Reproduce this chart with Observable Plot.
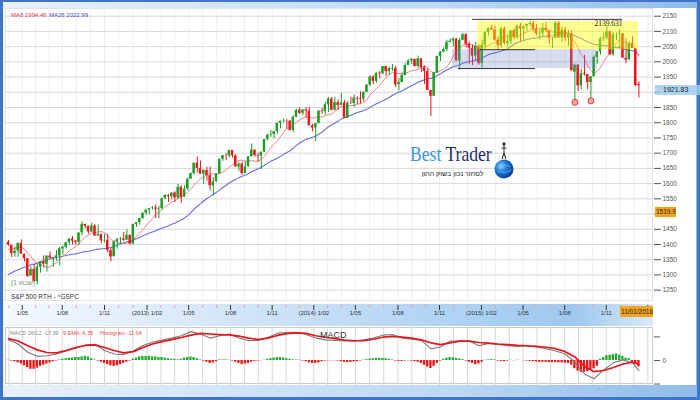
<!DOCTYPE html>
<html>
<head>
<meta charset="utf-8">
<script src="https://cdn.jsdelivr.net/npm/d3@7"></script>
<script src="https://cdn.jsdelivr.net/npm/@observablehq/plot@0.6"></script>
<style>
  body { margin: 0; }
  #wrap { position: relative; width: 700px; height: 400px; overflow: hidden; background: #3f74c9; font-family: "Liberation Sans", Arial, sans-serif; }
  .abs { position: absolute; }
  #inner { left: 3px; top: 2px; width: 694px; height: 395px; background: linear-gradient(to right, #e8f1fb, #bcd8f3 65%, #8fbbe9); }
  #mainbg { left: 4px; top: 8px; width: 692px; height: 319px; background: #fff; }
  #mainframe { left: 5px; top: 8px; width: 648px; height: 293px; border: 1px solid #e2e2e2; box-sizing: border-box; }
  #band { left: 4px; top: 304px; width: 649px; height: 22px; background: linear-gradient(to right, #f4f9fe 0%, #d3e6f8 35%, #aed2f2 70%, #9ec8ef 88%, #d9eaf9 100%); }
  #macdbg { left: 4px; top: 327px; width: 692px; height: 58px; background: #fff; }
  #macdframe { left: 5px; top: 327px; width: 648px; height: 57px; border: 1px solid #c9c9c9; box-sizing: border-box; }
  .lbl { position: absolute; white-space: nowrap; line-height: 1; }
  .box { position: absolute; white-space: nowrap; line-height: 10px; height: 10px; font-size: 6.5px; color: #222; box-sizing: border-box; }
</style>
</head>
<body>
<div id="wrap">
  <div id="inner" class="abs"></div>
  <div id="mainbg" class="abs"></div>
  <div id="mainframe" class="abs"></div>
  <div id="band" class="abs"></div>
  <div id="macdbg" class="abs"></div>
  <div id="macdframe" class="abs"></div>
</div>
<script>
// ---------- DATA (weekly S&P 500 candles, index 0 = week of 6 Apr 2012) ----------
const weekOpen = [
  1408,1397,1370,1379,1403,1368,1353,1296,1318,1278,
  1325,1343,1335,1362,1354,1356,1362,1385,1391,1406,
  1418,1411,1407,1438,1466,1460,1441,1461,1429,1433,
  1412,1414,1380,1360,1409,1416,1418,1414,1430,1402,
  1466,1472,1486,1503,1513,1518,1520,1516,1518,1551,
  1561,1557,1569,1553,1588,1555,1582,1614,1633,1667,
  1650,1631,1643,1626,1593,1606,1632,1680,1692,1691,
  1709,1691,1655,1664,1633,1655,1688,1710,1692,1690,
  1703,1745,1760,1762,1771,1798,1805,1806,1805,1775,
  1818,1841,1831,1842,1838,1790,1783,1797,1838,1836,
  1859,1878,1841,1866,1857,1865,1815,1864,1863,1881,
  1880,1878,1900,1924,1950,1936,1963,1961,1985,1968,
  1976,1978,1925,1932,1955,1988,2003,2008,1985,2010,
  1982,1968,1906,1887,1965,2018,2032,2040,2064,2068,
  2075,2003,2071,2089,2058,2045,2019,2051,1995,2055,
  2097,2110,2105,2071,2053,2108,2061,2067,2102,2081,
  2117,2108,2116,2123,2126,2107,2092,2094,2110,2102,
  2076,2077,2127,2079,2104,2078,2092,1966,1989,1921,
  1961,1958,1932,1951,2015,2033,2075,2079,2099,2023,
  2089,2090,2092,2012,2006,2061,2044,1926
];
const weekHigh = [
  1413,1397,1392,1406,1415,1368,1354,1328,1335,1335,
  1343,1363,1362,1375,1357,1380,1391,1395,1406,1418,
  1426,1413,1438,1474,1467,1460,1470,1465,1464,1434,
  1434,1433,1389,1409,1420,1423,1439,1448,1431,1467,
  1472,1486,1503,1514,1518,1525,1530,1525,1552,1564,
  1564,1570,1573,1597,1593,1592,1618,1635,1667,1687,
  1674,1646,1654,1655,1620,1632,1680,1693,1698,1709,
  1709,1695,1669,1670,1672,1689,1730,1710,1700,1704,
  1745,1760,1775,1771,1798,1805,1813,1810,1808,1823,
  1844,1849,1843,1850,1850,1795,1797,1840,1847,1867,
  1883,1883,1884,1875,1897,1872,1869,1884,1891,1885,
  1902,1901,1924,1955,1955,1963,1968,1985,1985,1983,
  1991,1985,1945,1964,1994,2006,2011,2008,2019,2010,
  1985,1977,1906,1965,2018,2034,2046,2071,2075,2079,
  2077,2077,2094,2093,2064,2056,2064,2058,2072,2097,
  2110,2119,2117,2082,2114,2114,2089,2102,2111,2120,
  2126,2117,2123,2134,2133,2122,2105,2126,2130,2102,
  2080,2132,2132,2114,2113,2103,2103,1993,1991,1975,
  2021,1958,1952,2020,2034,2080,2094,2116,2101,2097,
  2095,2105,2093,2076,2067,2082,2044,1935
];
const weekLow = [
  1394,1357,1358,1358,1368,1343,1292,1296,1277,1267,
  1306,1324,1309,1352,1325,1345,1329,1365,1385,1398,
  1398,1397,1396,1428,1452,1434,1440,1426,1426,1403,
  1405,1373,1343,1359,1385,1399,1410,1414,1398,1398,
  1456,1463,1482,1495,1498,1513,1485,1485,1514,1547,
  1538,1546,1539,1548,1536,1555,1577,1614,1628,1635,
  1630,1598,1608,1577,1560,1605,1632,1673,1676,1684,
  1684,1654,1640,1627,1633,1655,1688,1687,1670,1647,
  1703,1740,1752,1746,1761,1780,1799,1779,1772,1767,
  1818,1827,1823,1815,1790,1770,1738,1797,1828,1825,
  1834,1839,1839,1840,1857,1814,1815,1860,1851,1859,
  1862,1868,1900,1919,1925,1930,1944,1958,1952,1955,
  1968,1916,1905,1932,1955,1988,1991,1983,1978,1965,
  1926,1906,1821,1886,1961,2001,2030,2034,2062,2049,
  2003,1973,2069,2046,1992,1988,2004,1989,1980,2041,
  2085,2103,2068,2039,2045,2055,2045,2057,2073,2073,
  2067,2067,2099,2117,2099,2085,2072,2083,2097,2056,
  2044,2077,2077,2063,2067,2052,1970,1867,1903,1908,
  1953,1908,1872,1951,1993,2022,2066,2072,2022,2019,
  2070,2042,2012,1994,2006,2044,1918,1881
];
const weekClose = [
  1398,1370,1378,1403,1369,1353,1295,1318,1278,1325,
  1343,1335,1362,1355,1357,1363,1386,1391,1406,1418,
  1411,1407,1438,1466,1460,1441,1461,1428,1433,1412,
  1414,1380,1359,1409,1416,1418,1413,1430,1402,1466,
  1472,1486,1503,1513,1518,1520,1516,1518,1551,1561,
  1557,1569,1553,1588,1555,1582,1614,1633,1667,1650,
  1631,1643,1626,1593,1606,1632,1680,1692,1691,1709,
  1691,1655,1664,1633,1655,1688,1710,1692,1690,1703,
  1745,1760,1762,1771,1798,1805,1806,1805,1775,1818,
  1841,1831,1842,1838,1790,1783,1797,1838,1836,1859,
  1878,1841,1866,1857,1865,1815,1864,1863,1881,1878,
  1877,1900,1924,1950,1936,1963,1961,1985,1968,1978,
  1979,1925,1932,1955,1988,2003,2008,1985,2010,1982,
  1968,1906,1887,1965,2018,2032,2040,2064,2068,2075,
  2003,2071,2089,2058,2045,2019,2051,1995,2055,2097,
  2110,2105,2071,2053,2108,2061,2067,2102,2081,2117,
  2108,2116,2123,2126,2107,2092,2094,2110,2102,2077,
  2077,2127,2079,2104,2078,2092,1971,1989,1921,1961,
  1958,1932,1951,2015,2033,2075,2079,2099,2023,2089,
  2090,2092,2012,2006,2061,2044,1922,1921.83
];
// weekly closes before the visible window (Oct 2011 - Mar 2012), needed by the moving averages
const priorClose = [1155,1225,1238,1285,1253,1264,1216,1159,1244,1255,1219,1265,1258,1278,1289,1315,1316,1345,1343,1362,1366,1370,1371,1404,1397,1408];

// MACD panel
const macdIdx = [0,3,6,9,12,15,18,21,24,27,30,33,36,39,42,45,48,51,54,57,60,63,66,69,72,75,78,81,84,87,90,93,96,99,102,105,108,111,114,117,120,123,126,129,132,135,138,141,144,147,150,153,156,159,162,165,168,171,174,177,180,183,186,189,192,195,197];
const macdLine = [35,28,14,7,8,11,16,21,26,27.5,17,11,10,16,25.5,31,34.5,38,42,49,45,38,42,45,38,34,34,39,46,48,48,44,38,35,34,33,33,35,38,43,44,38,36,34,20,23,33,33,33,25,29,27,25,24,25,23,20,16,11,-3,-23,-31,-16,-4,1,-4,-17.39];
const signalLine = [37,33,25,18,13.5,13,17,22,25.5,26.5,22,17,13,15,22,28,32,35.5,39,43,46,45,44,43.5,41.5,38,35.5,38,42.5,45.5,47,46,42,39.5,37,34.5,33.5,33.5,36,39.5,41,39.5,38,35,30,27,30,33,33,30.5,29.5,28,27,25.5,25,24,22.5,20,15,6,-10,-19,-17,-12,-6,-3,-6.35];
const histogram = [
  0.5,-1,-2,-4,-6,-9,-12,-15,-15,-13,
  -10,-8,-6,-4,-2,-1,1,2,3,4,
  4,5,5,6,7,6,3,1,-1,-3,
  -5,-7,-9,-10,-9,-7,-5,-3,-1,2,
  4,6,7,7,7,6,6,5,5,4,
  3,2,2,1,2,4,5,6,5,3,
  1,-1,-3,-5,-4,-2,1,1,1,0.5,
  -1,-3,-5,-7,-6,-5,-3,-1.5,-1,-0.5,
  0.5,2,3,4,5,5,4,3,2,1,
  1,0.5,-1,-2,-4,-5,-5,-4,-2,-1,
  -0.5,-0.5,-0.5,-1,-2,-3,-3.5,-3,-2.5,-2,
  -1,0.5,1.5,2.5,3,3.5,3.5,3.5,3,2,
  1,-1,-1.5,-1.5,-1,-0.5,-1,-2,-3,-5,
  -8,-11,-13.5,-10,-5,-1,2,4,5,4.5,
  3.5,2.5,1.5,-1,-3,-5,-7,-6,-3,0.5,
  1,1.5,1,-1,-1.5,-2,-1,0.5,-0.5,0.5,
  0.3,-0.5,-1,-1.5,-2,-2.5,-3,-3,-3,-3.5,
  -3.5,-3.5,-4,-4,-4.5,-5,-8,-14,-18,-20,
  -20,-19,-17,-14,-10,2,5,8,9,10,
  11,9,7,4,3,-3,-7,-11.04
];

// axis ticks and labels
const priceTicks = [1250,1300,1350,1400,1450,1500,1550,1600,1650,1700,1750,1800,1850,1900,1950,2000,2050,2100,2150];
const coveredPriceLabels = [1500, 1900];   // hidden behind the price boxes in the reference
const macdTicks = [-40, 0, 40];
const quarterTicks = [4.3,16.8,30,43.3,56.3,69.4,82.4,95.4,108.4,121.7,134.7,147.8,160.8,173.8,186.8,199.8];
const quarterLabels = ["1/05","1/08","1/11","(2013) 1/02","1/05","1/08","1/11","(2014) 1/02","1/05","1/08","1/11","(2015) 1/02","1/05","1/08","1/11",""];

// annotations
const resistance = {value: 2139.631, from: 145, to: 191.9};
const zoneYellow = {from: 146.6, to: 196.9, low: 2040, high: 2133};
const zoneGray = {from: 138.75, to: 184, low: 1978, high: 2040};
const levelLines = [{value: 2040, from: 147.5, to: 164.7}, {value: 1978, from: 140.6, to: 164.7}];
const bottoms = [{i: 177, value: 1867}, {i: 182, value: 1872}];
const lastPrice = 1921.83;
const cursorPrice = 1519.9;
const cursorDate = "11/01/2016";
const legendMA = [{t: "MA8", v: "1994.46"}, {t: "MA26", v: "2022.99"}];
const legendMACD = ["MACD 26/12 -17.39", "9 EMA -6.35", "Histogram -11.04"];

// ---------- BUILD ----------
const GREEN = "#1c9e25", RED = "#f0141c";
const xDomain = [-0.9375, 201.5625];
const candles = weekClose.map((c, i) => ({i, open: weekOpen[i], high: weekHigh[i], low: weekLow[i], close: c}));
const history = priorClose.map((c, k) => ({i: k - priorClose.length, close: c})).concat(candles.map(d => ({i: d.i, close: d.close})));
const isUp = d => d.close >= d.open;
const macdRows = macdIdx.map((i, k) => ({i, v: macdLine[k]}));
const signalRows = macdIdx.map((i, k) => ({i, v: signalLine[k]}));
const histRows = histogram.map((h, i) => ({i, h}));
const labelOf = new Map(quarterTicks.map((t, k) => [t, quarterLabels[k]]));

const monthGrid = [quarterTicks[0] - (quarterTicks[1] - quarterTicks[0]) / 3];
const minorTicks = [monthGrid[0]];
for (let k = 0; k < quarterTicks.length - 1; k++) {
  const a = quarterTicks[k], b = quarterTicks[k + 1];
  monthGrid.push(a, a + (b - a) / 3, a + 2 * (b - a) / 3);
  minorTicks.push(a + (b - a) / 3, a + 2 * (b - a) / 3);
}
monthGrid.push(quarterTicks[quarterTicks.length - 1]);

const baseStyle = {background: "transparent", color: "#555", fontFamily: "Liberation Sans, Arial, sans-serif", fontSize: "6.5px"};
const wrap = document.getElementById("wrap");
function place(el, top) {
  el.style.position = "absolute"; el.style.left = "0px"; el.style.top = top + "px";
  wrap.appendChild(el); return el;
}

const MAIN_TOP = 8;
const main = Plot.plot({
  width: 700, height: 292,
  marginTop: 0, marginBottom: 0, marginLeft: 5, marginRight: 47,
  style: baseStyle,
  x: {domain: xDomain, axis: null},
  y: {domain: [1216, 2175.3], axis: "right", ticks: priceTicks, tickFormat: d => coveredPriceLabels.includes(d) ? "" : String(d), tickSize: 7, tickPadding: 2, label: null},
  marks: [
    Plot.ruleX(monthGrid, {x: d => d, stroke: "#efefef"}),
    Plot.ruleY(priceTicks, {y: d => d, stroke: "#d8d8d8"}),
    Plot.lineY(history, Plot.filter(d => d.i >= 0, Plot.windowY({k: 26, anchor: "end"}, {x: "i", y: "close", stroke: "#6a6ae6", strokeWidth: 1.1}))),
    Plot.lineY(history, Plot.filter(d => d.i >= 0, Plot.windowY({k: 8, anchor: "end"}, {x: "i", y: "close", stroke: "#f08282", strokeWidth: 1}))),
    Plot.ruleX(candles, {filter: isUp, x: "i", y1: "low", y2: "high", stroke: GREEN}),
    Plot.ruleX(candles, {filter: d => !isUp(d), x: "i", y1: "low", y2: "high", stroke: RED}),
    Plot.rect(candles, {filter: isUp, x1: d => d.i - 0.38, x2: d => d.i + 0.38, y1: "open", y2: "close", fill: GREEN}),
    Plot.rect(candles, {filter: d => !isUp(d), x1: d => d.i - 0.38, x2: d => d.i + 0.38, y1: "open", y2: "close", fill: RED}),
    Plot.rect([zoneGray], {x1: "from", x2: "to", y1: "low", y2: "high", fill: "#7b8ac6", fillOpacity: 0.3}),
    Plot.rect([zoneYellow], {x1: "from", x2: "to", y1: "low", y2: "high", fill: "#ffff00", fillOpacity: 0.42}),
    Plot.ruleY([resistance, ...levelLines], {y: "value", x1: "from", x2: "to", stroke: "#333", strokeWidth: 1}),
    Plot.text([resistance], {x: "to", y: "value", text: d => String(d.value), textAnchor: "end", lineAnchor: "top", dy: 1.5, fontSize: 7.5, fontFamily: "Liberation Serif, serif", fill: "#222"}),
    Plot.dot(bottoms, {x: "i", y: "value", r: 3, fill: "#f4a6a6", stroke: "#e03a3a", strokeWidth: 1})
  ]
});
place(main, MAIN_TOP);

const AXIS_TOP = 303;
const axisPlot = Plot.plot({
  width: 700, height: 22,
  marginTop: 2, marginBottom: 15, marginLeft: 5, marginRight: 47,
  style: {...baseStyle, color: "#333", fontSize: "6px"},
  x: {domain: xDomain, axis: null},
  marks: [
    Plot.ruleX(minorTicks, {x: d => d, stroke: "#e4a0aa", insetBottom: 2}),
    Plot.ruleX(quarterTicks, {x: d => d, stroke: "#333"}),
    Plot.text(quarterTicks, {filter: d => labelOf.get(d) !== "", x: d => d, text: d => labelOf.get(d), frameAnchor: "bottom", dy: 4.5, fontSize: 6, fill: "#333"})
  ]
});
place(axisPlot, AXIS_TOP);

const MACD_TOP = 327;
const macdPlot = Plot.plot({
  width: 700, height: 58,
  marginTop: 0, marginBottom: 0, marginLeft: 5, marginRight: 47,
  style: baseStyle,
  x: {domain: xDomain, axis: null},
  y: {domain: [-42.5, 56], axis: "right", ticks: macdTicks, tickFormat: d => d === 0 ? "0" : "", tickSize: 6, tickPadding: 3, label: null},
  marks: [
    Plot.ruleX(monthGrid, {x: d => d, stroke: "#d6d6d6"}),
    Plot.rect(histRows, {filter: d => d.h >= 0, x1: d => d.i - 0.36, x2: d => d.i + 0.36, y1: 0, y2: "h", fill: "#22a62c"}),
    Plot.rect(histRows, {filter: d => d.h < 0, x1: d => d.i - 0.36, x2: d => d.i + 0.36, y1: 0, y2: "h", fill: "#ee1111"}),
    Plot.line(macdRows, {x: "i", y: "v", stroke: "#7b7b7b", strokeWidth: 1.1}),
    Plot.line(signalRows, {x: "i", y: "v", stroke: "#e8141b", strokeWidth: 1.7})
  ]
});
place(macdPlot, MACD_TOP);

// ---------- TEXT OVERLAYS ----------
function addLabel(text, left, top, css) {
  const d = document.createElement("div");
  d.className = "lbl"; d.textContent = text;
  d.style.left = left + "px"; d.style.top = top + "px";
  Object.assign(d.style, css || {});
  wrap.appendChild(d); return d;
}
// MA legend
addLabel(legendMA[0].t + " " + legendMA[0].v, 11, 12, {fontSize: "6px", color: "#e0404a"});
addLabel(legendMA[1].t + " " + legendMA[1].v, 49, 12, {fontSize: "6px", color: "#4a4ad0"});
// timeframe & symbol
const tf = addLabel("(1 שבוע)", 11, 280, {fontSize: "6.5px", color: "#5f9a62"});
tf.dir = "ltr";
addLabel("S&P 500 RTH - ^GSPC", 11, 294, {fontSize: "6.5px", color: "#333"});
// MACD legend
addLabel(legendMACD[0], 10, 330.5, {fontSize: "5.5px", color: "#8a8a8a"});
addLabel(legendMACD[1], 63, 330.5, {fontSize: "5.5px", color: "#e84a4a"});
addLabel(legendMACD[2], 100, 330.5, {fontSize: "5.5px", color: "#e84a4a"});
addLabel("MACD", 320, 331, {fontSize: "9px", color: "#333"});

// price boxes positioned through the main plot's y scale
const yScale = main.scale("y");
const lastTop = MAIN_TOP + yScale.apply(lastPrice);
const b1 = document.createElement("div");
b1.className = "box"; b1.textContent = lastPrice.toFixed(2);
Object.assign(b1.style, {left: "655px", top: lastTop + "px", width: "45px", paddingLeft: "8px", background: "rgba(160,205,240,0.85)", fontSize: "7px", color: "#222"});
wrap.appendChild(b1);
const cursorTop = MAIN_TOP + yScale.apply(cursorPrice);
const b2 = document.createElement("div");
b2.className = "box"; b2.textContent = String(cursorPrice);
Object.assign(b2.style, {left: "655px", top: cursorTop + "px", width: "21px", paddingLeft: "1px", background: "#f5a21e"});
wrap.appendChild(b2);
const b3 = document.createElement("div");
b3.className = "box"; b3.textContent = cursorDate;
Object.assign(b3.style, {left: "620px", top: "306px", width: "33px", height: "11px", lineHeight: "11px", paddingLeft: "1px", background: "#f5a21e"});
wrap.appendChild(b3);

// watermark logo
const logo = document.createElement("div");
logo.className = "lbl";
Object.assign(logo.style, {left: "410px", top: "143px", fontFamily: "Liberation Serif, 'Times New Roman', serif", fontSize: "22px", transform: "scale(0.8,1)", transformOrigin: "left top"});
logo.innerHTML = '<span style="color:#3a95dc">Best</span> <span style="color:#1d2f6a">Trader</span>';
wrap.appendChild(logo);
const heb = addLabel("לסחור נכון בשוק ההון", 421, 169.5, {fontSize: "7px", color: "#222", width: "63px", textAlign: "center"});
heb.dir = "rtl";
const globe = document.createElementNS("http://www.w3.org/2000/svg", "svg");
globe.setAttribute("width", "24"); globe.setAttribute("height", "42");
globe.style.position = "absolute"; globe.style.left = "492px"; globe.style.top = "140px";
globe.innerHTML = '<defs><radialGradient id="gg" cx="0.35" cy="0.35" r="0.7"><stop offset="0" stop-color="#8fd0ff"/><stop offset="0.45" stop-color="#1c7ad8"/><stop offset="1" stop-color="#0b3d8f"/></radialGradient></defs>' +
  '<circle cx="12" cy="29" r="9.5" fill="url(#gg)"/>' +
  '<path d="M6 26 Q12 22.5 18 27 M5 31 Q12 34.5 19 30" stroke="#5fb4f2" stroke-width="0.8" fill="none"/>' +
  '<circle cx="12" cy="4" r="1.7" fill="#333"/>' +
  '<path d="M12 5.5 L12 13 M9.5 8 L14.5 8 M12 13 L10 19 M12 13 L14 19" stroke="#333" stroke-width="1.1" fill="none"/>';
wrap.appendChild(globe);
</script>
</body>
</html>
